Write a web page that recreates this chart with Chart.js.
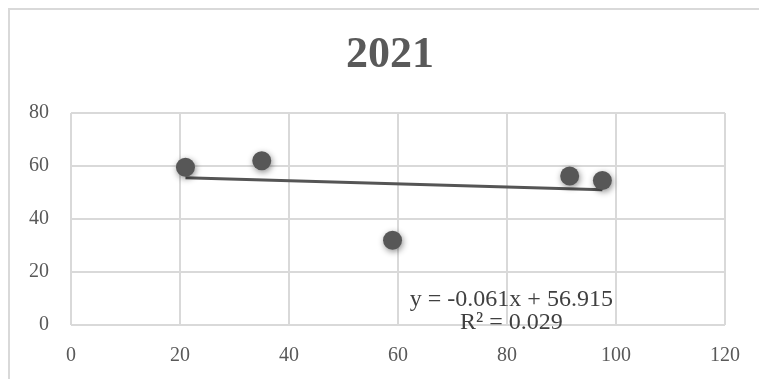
<!DOCTYPE html>
<html><head><meta charset="utf-8">
<script src="https://cdn.jsdelivr.net/npm/chart.js@4/dist/chart.umd.min.js"></script>
<style>
html,body{margin:0;padding:0;background:#fff;overflow:hidden;width:759px;height:379px;}
#frame{position:absolute;left:8px;top:8px;width:800px;height:420px;border-left:2px solid #d9d9d9;border-top:2px solid #d9d9d9;box-sizing:border-box;}
#wrap{position:absolute;left:0;top:0;width:759px;height:379px;}
</style></head>
<body>
<div id="frame"></div>
<div id="wrap"><canvas id="c" width="759" height="379"></canvas></div>
<script>
const titleText = "2021";
const xValues = [21, 35, 59, 91.5, 97.5];
const yValues = [59.5, 62, 32, 56.2, 54.5];
const trendX = [21, 97.5];
const trendY = [55.6, 51.0];
const equationText = "y = -0.061x + 56.915";
const r2Text = "R\u00b2 = 0.029";
const xTicks = [0, 20, 40, 60, 80, 100, 120];
const yTicks = [0, 20, 40, 60, 80];

const points = xValues.map((x, i) => ({x: x, y: yValues[i]}));
const trend = trendX.map((x, i) => ({x: x, y: trendY[i]}));

const shadowPlugin = {
  id: 'shadow',
  beforeDatasetDraw(chart, args) {
    if (args.index === 0) {
      const ctx = chart.ctx;
      ctx.save();
      ctx.shadowColor = 'rgba(0,0,0,0.45)';
      ctx.shadowBlur = 6;
      ctx.shadowOffsetX = 1;
      ctx.shadowOffsetY = 2;
    }
  },
  afterDatasetDraw(chart, args) {
    if (args.index === 0) chart.ctx.restore();
  }
};

const textPlugin = {
  id: 'texts',
  afterDraw(chart) {
    const ctx = chart.ctx;
    const xs = chart.scales.x, ys = chart.scales.y;
    ctx.save();
    ctx.textAlign = 'center';
    ctx.textBaseline = 'middle';
    ctx.font = 'bold 44px "Liberation Serif", "Times New Roman", serif';
    ctx.fillStyle = '#595959';
    ctx.fillText(titleText, 390, 56);
    ctx.font = '24px "Liberation Serif", "Times New Roman", serif';
    ctx.fillStyle = '#404040';
    ctx.fillText(equationText, xs.getPixelForValue(80.8), ys.getPixelForValue(9.5));
    ctx.fillText(r2Text, xs.getPixelForValue(80.8), ys.getPixelForValue(1.0));
    ctx.restore();
  }
};

new Chart(document.getElementById('c'), {
  type: 'scatter',
  data: {
    datasets: [
      {
        data: points,
        backgroundColor: '#575757',
        borderColor: '#575757',
        pointRadius: 9.5,
        pointHoverRadius: 9.5,
        borderWidth: 0,
        order: 1
      },
      {
        data: trend,
        showLine: true,
        borderColor: '#555555',
        borderWidth: 3,
        pointRadius: 0,
        fill: false,
        order: 2
      }
    ]
  },
  plugins: [shadowPlugin, textPlugin],
  options: {
    responsive: false,
    animation: false,
    events: [],
    layout: {padding: {left: 0, right: 31, top: 113, bottom: 0}},
    plugins: {
      legend: {display: false},
      tooltip: {enabled: false},
      title: {display: false}
    },
    scales: {
      x: {
        type: 'linear',
        min: 0, max: 120,
        afterBuildTicks(s) { s.ticks = xTicks.map(v => ({value: v})); },
        afterFit(s) { s.height = 54; },
        grid: {color: '#d9d9d9', lineWidth: 2, drawTicks: false},
        border: {display: false},
        ticks: {color: '#595959', padding: 19, font: {family: '"Liberation Serif", "Times New Roman", serif', size: 20}}
      },
      y: {
        type: 'linear',
        min: 0, max: 80,
        afterBuildTicks(s) { s.ticks = yTicks.map(v => ({value: v})); },
        afterFit(s) { s.width = 71; },
        grid: {color: '#d9d9d9', lineWidth: 2, drawTicks: false},
        border: {display: false},
        ticks: {color: '#595959', padding: 22, font: {family: '"Liberation Serif", "Times New Roman", serif', size: 20}}
      }
    }
  }
});
</script>
</body></html>
